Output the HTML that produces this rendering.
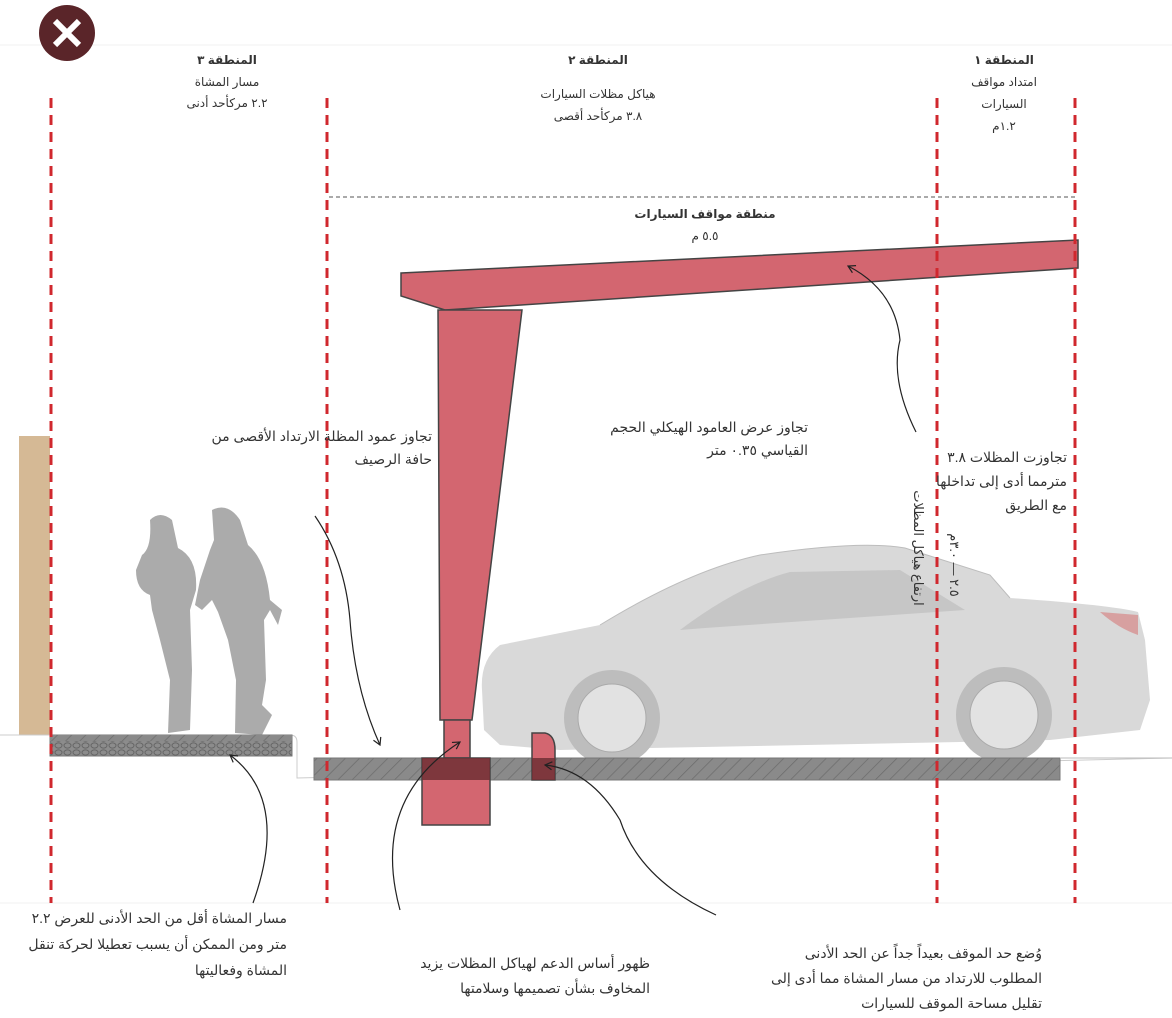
<!DOCTYPE html>
<html><head><meta charset="utf-8"><style>
html,body{margin:0;padding:0;background:#fff;width:1172px;height:1018px;overflow:hidden}
svg text{font-family:"Liberation Sans","DejaVu Sans",sans-serif;fill:#333}
</style></head><body>
<svg width="1172" height="1018" viewBox="0 0 1172 1018" xmlns="http://www.w3.org/2000/svg">
<defs>
<pattern id="h" width="10" height="10" patternUnits="userSpaceOnUse" patternTransform="rotate(45)">
<rect width="10" height="10" fill="#8a8a8a"/><line x1="0" y1="0" x2="0" y2="10" stroke="#6d6d6d" stroke-width="1.5"/></pattern>
<pattern id="c" width="9" height="7" patternUnits="userSpaceOnUse">
<rect width="9" height="7" fill="#8c8c8c"/><ellipse cx="4.5" cy="3.5" rx="3.5" ry="2.6" fill="none" stroke="#666" stroke-width="1"/></pattern>
<marker id="a" markerWidth="10" markerHeight="10" refX="8" refY="5" orient="auto" markerUnits="userSpaceOnUse">
<path d="M1,1 L8,5 L1,9" fill="none" stroke="#222" stroke-width="1.2"/></marker>
</defs>
<line x1="0" y1="45" x2="1172" y2="45" stroke="#f2f2f2"/>
<line x1="0" y1="903" x2="1172" y2="903" stroke="#f2f2f2"/>
<circle cx="67" cy="33" r="28" fill="#5a2529"/>
<path d="M55,21 L79,45 M79,21 L55,45" stroke="#fff" stroke-width="6"/>

<rect x="19" y="436" width="31" height="299" fill="#d5b995"/>

<g fill="#ababab">
<path d="M150,520 Q160,510 172,520 L178,548 Q198,558 196,590 L190,610 L192,670 L190,730 L168,733 L170,680 L160,640 L152,610 L150,595 Q136,590 136,570 L142,555 Q152,548 150,520Z"/>
<path d="M212,510 Q228,502 240,520 L248,545 Q266,560 270,600 L282,610 L278,625 L270,610 L264,620 L266,680 L262,705 L272,715 L262,735 L235,733 L236,680 L228,640 L218,612 L212,600 L202,610 L195,605 L200,580 L210,550 L214,540 Z"/>
</g>

<g>
<path d="M482,690 Q480,660 500,645 L600,625 Q690,570 760,555 Q860,540 905,548 L990,575 L1010,598 Q1110,605 1138,612 L1145,640 L1150,700 L1140,730 L1050,740 L960,742 L650,748 L560,750 L500,745 L484,730 Z" fill="#d9d9d9"/>
<path d="M680,630 Q740,585 790,572 L900,570 L965,610 L705,628 Z" fill="#c6c6c6"/>
<path d="M600,625 Q690,570 760,555 Q860,540 905,548 L990,575 L1010,598" fill="none" stroke="#bdbdbd"/>
<circle cx="612" cy="718" r="48" fill="#bdbdbd"/><circle cx="612" cy="718" r="34" fill="#e2e2e2" stroke="#aaa"/>
<circle cx="1004" cy="715" r="48" fill="#bdbdbd"/><circle cx="1004" cy="715" r="34" fill="#e2e2e2" stroke="#aaa"/>
<path d="M1100,612 L1138,615 L1138,635 Q1118,628 1100,612Z" fill="#d7a0a0"/>
</g>

<path d="M0,735 L290,735 Q297,735 297,742 L297,778 L1172,758" fill="none" stroke="#ccc"/>
<rect x="50" y="735" width="242" height="21" fill="url(#c)" stroke="#777"/>
<rect x="50" y="735" width="242" height="6" fill="url(#h)"/>
<rect x="314" y="758" width="746" height="22" fill="url(#h)" stroke="#777"/>
<line x1="1060" y1="758" x2="1172" y2="758" stroke="#bbb"/>

<g fill="#d36670" stroke="#444" stroke-width="1.5">
<path d="M401,273 L1078,240 L1078,268 L445,310 L401,296 Z"/>
<path d="M438,310 L522,310 L472,720 L440,720 Z"/>
<rect x="444" y="720" width="26" height="38"/>
<rect x="422" y="758" width="68" height="67"/>
<path d="M532,733 L545,733 Q555,735 555,750 L555,780 L532,780 Z"/>
</g>
<rect x="422" y="758" width="68" height="22" fill="#6e2f34" opacity="0.85"/>
<rect x="532" y="758" width="23" height="22" fill="#6e2f34" opacity="0.85"/>

<g stroke="#d0282e" stroke-width="3" stroke-dasharray="10,7">
<line x1="51" y1="98" x2="51" y2="903"/>
<line x1="327" y1="98" x2="327" y2="903"/>
<line x1="937" y1="98" x2="937" y2="903"/>
<line x1="1075" y1="98" x2="1075" y2="903"/>
</g>
<line x1="329" y1="197" x2="1075" y2="197" stroke="#555" stroke-dasharray="4,3"/>

<g fill="none" stroke="#222" stroke-width="1.2" marker-end="url(#a)">
<path d="M916,432 Q890,380 900,340 Q895,290 848,266"/>
<path d="M315,516 Q345,560 350,620 Q355,690 380,745"/>
<path d="M253,903 Q290,800 230,755"/>
<path d="M400,910 Q370,800 460,742"/>
<path d="M716,915 Q640,880 620,820 Q590,770 545,765"/>
</g>

<g direction="rtl" text-anchor="middle" font-size="12">
<text x="227" y="64" font-weight="bold">المنطقة ٣</text>
<text x="227" y="86">مسار المشاة</text>
<text x="227" y="107">٢.٢ مركأحد أدنى</text>
<text x="598" y="64" font-weight="bold">المنطقة ٢</text>
<text x="598" y="98">هياكل مظلات السيارات</text>
<text x="598" y="120">٣.٨ مركأحد أقصى</text>
<text x="1004" y="64" font-weight="bold">المنطقة ١</text>
<text x="1004" y="86">امتداد مواقف</text>
<text x="1004" y="108">السيارات</text>
<text x="1004" y="130">١.٢م</text>
<text x="705" y="218" font-weight="bold">منطقة مواقف السيارات</text>
<text x="705" y="240">٥.٥ م</text>
</g>
<g direction="rtl" text-anchor="start" font-size="14" style="fill:#222">
<text x="432" y="441" fill="#222">تجاوز عمود المظلة الارتداد الأقصى من</text>
<text x="432" y="464" fill="#222">حافة الرصيف</text>
<text x="808" y="432" fill="#222">تجاوز عرض العامود الهيكلي الحجم</text>
<text x="808" y="455" fill="#222">القياسي ٠.٣٥ متر</text>
<text x="1067" y="462" fill="#222">تجاوزت المظلات ٣.٨</text>
<text x="1067" y="486" fill="#222">مترمما أدى إلى تداخلها</text>
<text x="1067" y="510" fill="#222">مع الطريق</text>
<text x="287" y="923" fill="#222">مسار المشاة أقل من الحد الأدنى للعرض ٢.٢</text>
<text x="287" y="949" fill="#222">متر ومن الممكن أن يسبب تعطيلا لحركة تنقل</text>
<text x="287" y="975" fill="#222">المشاة وفعاليتها</text>
<text x="650" y="968" fill="#222">ظهور أساس الدعم لهياكل المظلات يزيد</text>
<text x="650" y="993" fill="#222">المخاوف بشأن تصميمها وسلامتها</text>
<text x="1042" y="958" fill="#222">وُضع حد الموقف بعيداً جداً عن الحد الأدنى</text>
<text x="1042" y="983" fill="#222">المطلوب للارتداد من مسار المشاة مما أدى إلى</text>
<text x="1042" y="1008" fill="#222">تقليل مساحة الموقف للسيارات</text>
</g>
<g font-size="13" direction="rtl" text-anchor="middle">
<text transform="translate(914,548) rotate(90)">ارتفاع هياكل المظلات</text>
<text transform="translate(950,565) rotate(90)">٢.٥ — ٣.٠م</text>
</g>
</svg>
</body></html>
